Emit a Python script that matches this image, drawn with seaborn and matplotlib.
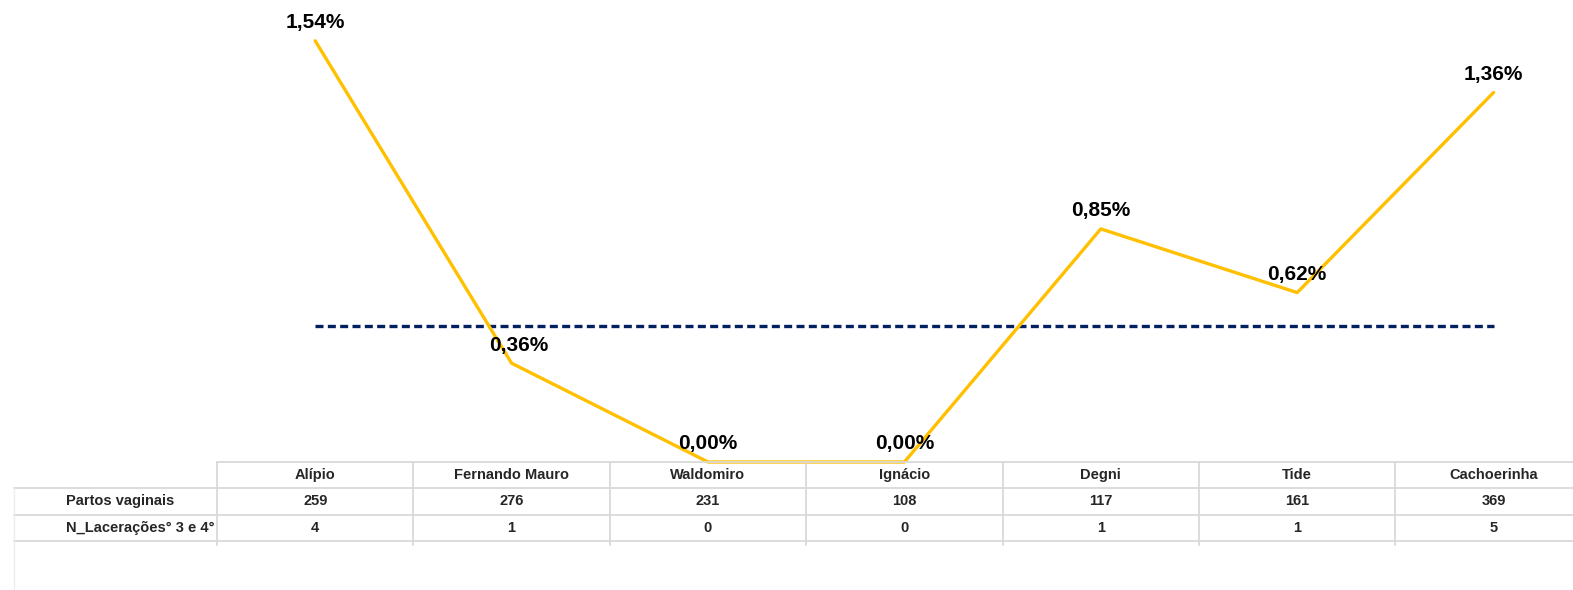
import numpy as np
import pandas as pd
import matplotlib
matplotlib.use("Agg")
import matplotlib.pyplot as plt
import seaborn as sns

# data
postos = ["Alípio", "Fernando Mauro", "Waldomiro", "Ignácio", "Degni", "Tide", "Cachoerinha"]
partos_vaginais = [259, 276, 231, 108, 117, 161, 369]
n_laceracoes = [4, 1, 0, 0, 1, 1, 5]
meta = 0.5  # dashed reference line (%)
row_labels = ["Partos vaginais", "N_Lacerações° 3 e 4°"]

taxa = [l / p * 100 for l, p in zip(n_laceracoes, partos_vaginais)]

df = pd.DataFrame({
    "pos": np.arange(len(postos)),
    "posto": postos,
    "taxa": taxa,
    "meta": [meta] * len(postos),
})

sns.set_style("white")
plt.rcParams["font.family"] = ["Liberation Sans", "DejaVu Sans"]

W, H = 1573, 590
fig = plt.figure(figsize=(W / 100, H / 100), dpi=100)

# chart area: columns start at x=217px, each ~196.4px wide
col_w = 196.4
ax = fig.add_axes([217 / W, (H - 462) / H, 7 * col_w / W, 420 / H])
ax.set_xlim(-0.5, 6.5)
ax.set_ylim(0, 1.54)
ax.axis("off")

sns.lineplot(data=df, x="pos", y="meta", ax=ax, color="#002060", linewidth=2.4,
             dashes=False, linestyle=(0, (2.4, 1.3)))
sns.lineplot(data=df, x="pos", y="taxa", ax=ax, color="#FFC000", linewidth=2.4,
             sort=False)
for line in ax.lines:
    line.set_clip_on(False)

for x, v in zip(df["pos"], df["taxa"]):
    lbl = f"{v:.2f}%".replace(".", ",")
    dx = 5 if x == 1 else 0
    ax.annotate(lbl, (x, v), xytext=(dx, 13), textcoords="offset points",
                ha="center", va="center", fontsize=15, fontweight="bold",
                color="black", annotation_clip=False)

# table below the chart
row_h = 26.3
tax = fig.add_axes([217 / W, 0, 7 * col_w / W, 128 / H])
tax.set_xlim(-0.5, 6.5)
tax.set_ylim(128 / row_h, 0)
tax.axis("off")

grid_c = "#D9D9D9"
left_x = -0.5 - (217 - 14) / col_w
text_x = -0.5 - (217 - 66) / col_w

tax.plot([-0.5, 7.5], [0, 0], color=grid_c, lw=1.3, clip_on=False, zorder=0)
for r in [1, 2, 3]:
    tax.plot([left_x, 7.5], [r, r], color=grid_c, lw=1.3, clip_on=False)
for k in range(8):
    tax.plot([k - 0.5, k - 0.5], [0, 3.15], color=grid_c, lw=1.3, clip_on=False)
tax.plot([left_x, left_x], [1, 128 / row_h], color="#EDEDED", lw=1.0, clip_on=False)

for i, name in enumerate(postos):
    tax.text(i, 0.5, name, ha="center", va="center", fontsize=10.5, fontweight="bold")
    tax.text(i, 1.5, str(partos_vaginais[i]), ha="center", va="center",
             fontsize=10.5, fontweight="bold")
    tax.text(i, 2.5, str(n_laceracoes[i]), ha="center", va="center",
             fontsize=10.5, fontweight="bold")

for r, lbl in enumerate(row_labels):
    tax.text(text_x, r + 1.5, lbl, ha="left", va="center", fontsize=10.5,
             fontweight="bold", clip_on=False)

fig.savefig("out.png", dpi=100, facecolor="white")
